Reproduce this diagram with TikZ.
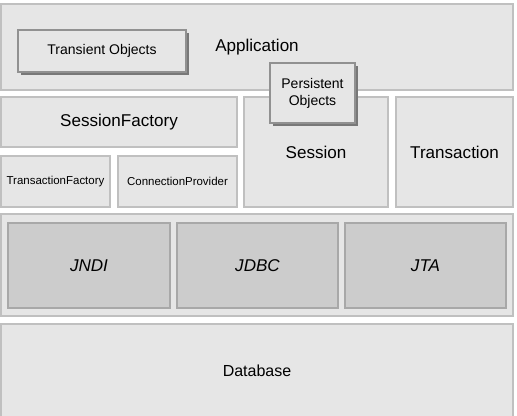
\documentclass[tikz,border=0pt]{standalone}
\usepackage{fontspec}
\setmainfont{Liberation Sans}
\usepackage{tikz}

\definecolor{layerfill}{RGB}{230,230,230}
\definecolor{layerline}{RGB}{192,192,192}
\definecolor{apifill}{RGB}{204,204,204}
\definecolor{apiline}{RGB}{168,168,168}
\definecolor{objline}{RGB}{145,145,145}
\definecolor{shadowgrey}{RGB}{120,120,120}

\begin{document}
\begin{tikzpicture}[x=0.75pt,y=0.75pt,yscale=-1,xscale=1,
        layer/.style={draw=layerline,fill=layerfill,line width=0.8},
        api/.style={draw=apiline,fill=apifill,line width=0.8},
        objbox/.style={draw=objline,fill=layerfill,line width=0.8},
        bigtext/.style={font=\fontsize{12.8}{15}\selectfont},
        midtext/.style={font=\fontsize{10.5}{12.8}\selectfont,align=center},
        smalltext/.style={font=\fontsize{8.6}{10}\selectfont},
        dbtext/.style={font=\fontsize{12}{14}\selectfont}]
        \useasboundingbox (0,0) rectangle (517,416);
        \fill[white] (0,0) rectangle (517,416);

        % application layer
        \draw[layer] (1,4) rectangle (513,90) node[pos=.5,bigtext] (app) {Application};
        \fill[shadowgrey] (21,33) rectangle (189,75);
        \draw[objbox] (18,30) rectangle (186,72) node[pos=.5,midtext] (transient) {Transient Objects};

        % hibernate core
        \draw[layer] (1,97) rectangle (237,147) node[pos=.5,bigtext] (sessfactory) {SessionFactory};
        \draw[layer] (1,156) rectangle (110,207) node[pos=.5,smalltext] (txfactory) {TransactionFactory};
        \draw[layer] (118,156) rectangle (237,207) node[pos=.5,smalltext] (connprov) {ConnectionProvider};
        \draw[layer] (244,97) rectangle (388,207) node[pos=.5,bigtext] (session) {Session};
        \draw[layer] (396,97) rectangle (513,207) node[pos=.5,bigtext] (transaction) {Transaction};

        % persistent objects sit on top of the session
        \fill[shadowgrey] (273,66) rectangle (358,126);
        \draw[objbox] (270,63) rectangle (355,123) node[pos=.5,midtext] (persistent) {Persistent\\Objects};

        % java apis
        \draw[layer] (1,214) rectangle (513,316);
        \draw[api] (8,223) rectangle (170,308) node[pos=.5,bigtext] (jndi) {\itshape JNDI};
        \draw[api] (177,223) rectangle (338,308) node[pos=.5,bigtext] (jdbc) {\itshape JDBC};
        \draw[api] (345,223) rectangle (506,308) node[pos=.5,bigtext] (jta) {\itshape JTA};

        % database
        \draw[layer] (1,324) rectangle (513,436);
        \node[dbtext] (db) at (257,371) {Database};
    \end{tikzpicture}
\end{document}
